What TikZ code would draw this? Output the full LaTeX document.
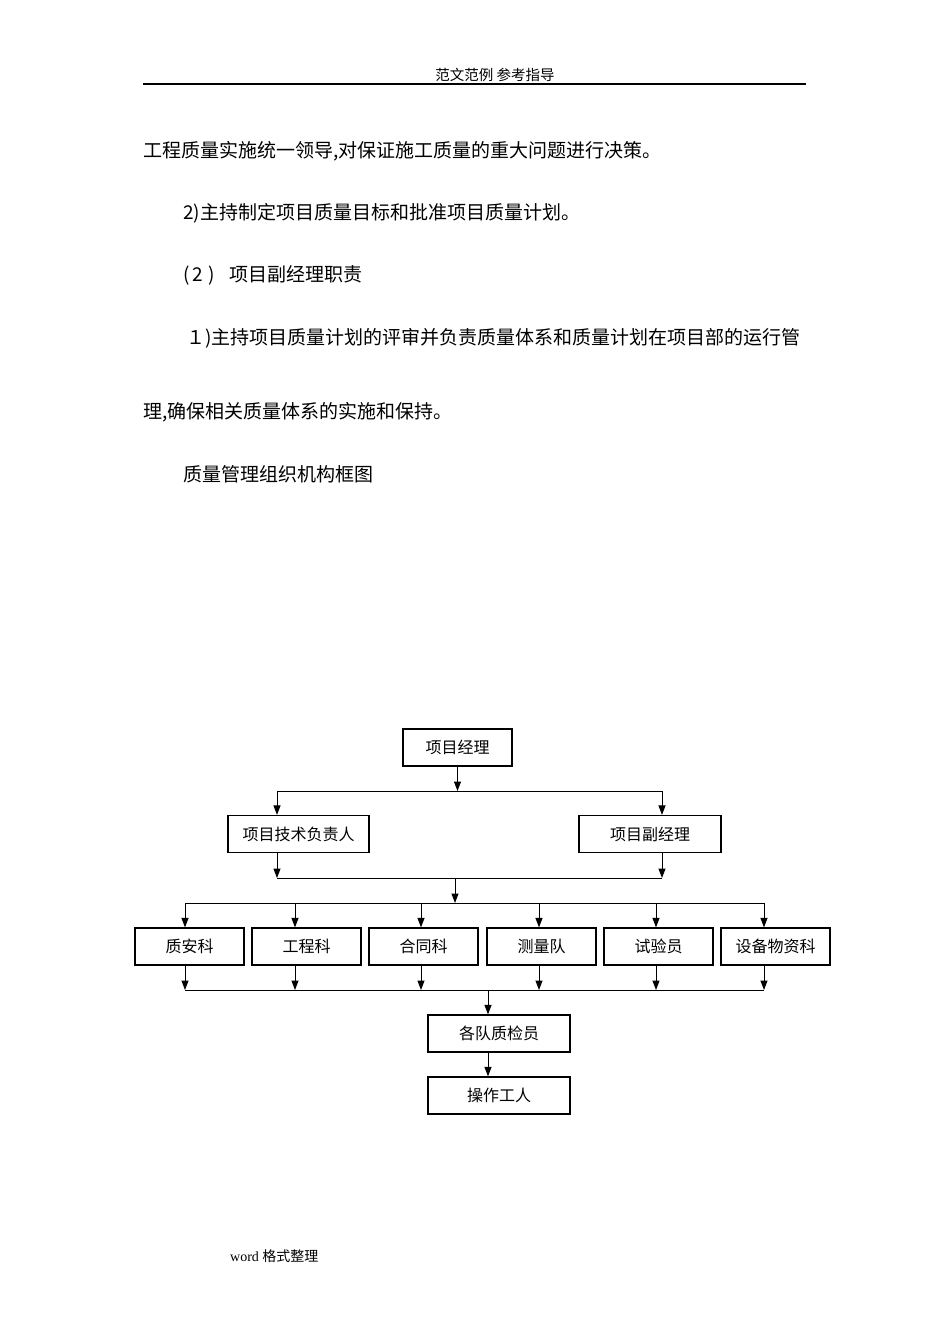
\documentclass[tikz,border=0pt]{standalone}
\usepackage{fontspec}
\newfontfamily\cjk{Noto Sans CJK SC}
\newfontfamily\latinserif{Liberation Serif}
\usetikzlibrary{arrows.meta}

\begin{document}
\begin{tikzpicture}[x=1pt,y=-1pt,
  box/.style={draw,line width=1.2pt,minimum width=109pt,minimum height=37pt,inner sep=0pt,font=\cjk\fontsize{16}{18}\selectfont},
  txt/.style={anchor=west,inner sep=0pt,font=\cjk\fontsize{19}{22}\selectfont},
  arr/.style={-{Triangle[length=9.5pt,width=7pt]},line width=1pt},
  bar/.style={line width=1pt}]
\useasboundingbox[fill=white] (0,0) rectangle (950,1344);

% page head and text
\node[inner sep=0pt,font=\cjk\fontsize{14.5}{16}\selectfont] (head) at (495,75) {范文范例\ 参考指导};
\draw[line width=1.4pt] (143,84) coordinate (hl) -- (806,84) coordinate (hr);
\node[txt] (p1) at (143,151) {工程质量实施统一领导,对保证施工质量的重大问题进行决策。};
\node[txt] (p2) at (183,213) {2)主持制定项目质量目标和批准项目质量计划。};
\node[txt] (p3) at (183,275) {(\hspace{3pt}2\hspace{5pt})\hspace{15pt}项目副经理职责};
\node[txt] (p4) at (186,338) {１)主持项目质量计划的评审并负责质量体系和质量计划在项目部的运行管};
\node[txt] (p5) at (143,412) {理,确保相关质量体系的实施和保持。};
\node[txt] (p6) at (183,474) {质量管理组织机构框图};

% chart
\node[box] (xmjl) at (457.5,747.5) {项目经理};
\node[box,minimum width=141pt] (jsfz) at (298.5,834) {项目技术负责人};
\node[box,minimum width=142pt] (fjl) at (650,834) {项目副经理};

\coordinate (b1w) at (277,791);
\coordinate (b1e) at (662,791);
\draw[bar] (b1w) -- (b1e);
\draw[arr] (xmjl.south) -- (xmjl.south |- b1w);
\draw[arr] (b1w) -- (b1w |- jsfz.north);
\draw[arr] (b1e) -- (b1e |- fjl.north);

\coordinate (b2w) at (277,878);
\coordinate (b2e) at (662,878);
\coordinate (b2m) at (455,878);
\draw[bar] (b2w) -- (b2e);
\draw[arr] (b1w |- jsfz.south) -- (b2w);
\draw[arr] (b1e |- fjl.south) -- (b2e);

\coordinate (b3w) at (185,903);
\coordinate (b3e) at (764,903);
\coordinate (b4w) at (185,990);
\coordinate (b4e) at (764,990);
\draw[bar] (b3w) -- (b3e);
\draw[bar] (b4w) -- (b4e);
\draw[arr] (b2m) -- (b2m |- b3w);

\foreach \n/\c/\x/\t in {zak/189.5/185/质安科, gck/306.5/295/工程科, htk/423.5/421/合同科,
                        cld/541.5/539/测量队, syy/658.5/656/试验员, sbk/775.5/764/设备物资科}{
  \node[box] (\n) at (\c,946.5) {\t};
  \coordinate (t\n) at (\x,903);
  \draw[arr] (t\n) -- (t\n |- \n.north);
  \draw[arr] (t\n |- \n.south) -- (t\n |- b4w);
}

\node[box,minimum width=142pt] (zjy) at (499,1033.5) {各队质检员};
\node[box,minimum width=142pt] (czgr) at (499,1095.5) {操作工人};
\coordinate (b4m) at (488,990);
\draw[arr] (b4m) -- (b4m |- zjy.north);
\draw[arr] (b4m |- zjy.south) -- (b4m |- czgr.north);

% foot
\node[anchor=west,inner sep=0pt,font=\fontsize{14}{16}\selectfont] (foot) at (230,1256) {\latinserif word \cjk 格式整理};
\end{tikzpicture}
\end{document}
